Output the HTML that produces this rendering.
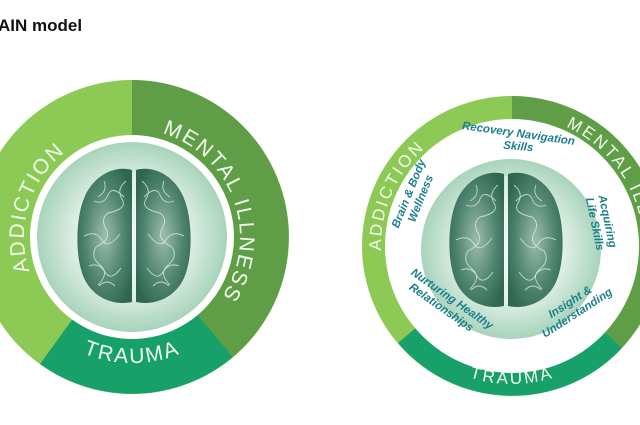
<!DOCTYPE html>
<html><head><meta charset="utf-8"><style>
html,body{margin:0;padding:0;background:#fff;}
body{width:640px;height:425px;overflow:hidden;}
svg{display:block}
</style></head><body>
<svg width="640" height="425" viewBox="0 0 640 425" xmlns="http://www.w3.org/2000/svg">
<defs>
<radialGradient id="disc" cx="50%" cy="50%" r="50%">
<stop offset="0" stop-color="#ffffff"/><stop offset="0.55" stop-color="#e4f2ea"/><stop offset="1" stop-color="#a8d3bb"/>
</radialGradient>
<radialGradient id="brainG" cx="50%" cy="50%" r="60%">
<stop offset="0" stop-color="#9cbcae"/><stop offset="0.6" stop-color="#4f8570"/><stop offset="1" stop-color="#2f6652"/>
</radialGradient>
<g id="brain">
<path d="M-2,-66 C-20,-71 -40,-60 -49,-40 C-59,-18 -59,22 -50,42 C-41,62 -20,70 -2,66 Z" fill="url(#brainG)"/>
<path d="M2,-66 C20,-71 40,-60 49,-40 C59,-18 59,22 50,42 C41,62 20,70 2,66 Z" fill="url(#brainG)"/>
<g fill="none" stroke="#dfeee6" stroke-width="0.9" opacity="0.8">
<path d="M-8,-55 q-10,8 -4,18 t-14,14 q-8,6 -2,16 t-10,18 q-6,10 4,18 t-2,20"/>
<path d="M-40,-35 q10,4 14,-6 t16,2 M-50,0 q12,-6 18,4 t18,-6 M-45,30 q10,-4 16,6 t16,-4 M-30,-55 q4,10 -6,16 M-35,50 q8,-8 16,0"/>
<path d="M8,-55 q10,8 4,18 t14,14 q8,6 2,16 t10,18 q6,10 -4,18 t2,20"/>
<path d="M40,-35 q-10,4 -14,-6 t-16,2 M50,0 q-12,-6 -18,4 t-18,-6 M45,30 q-10,-4 -16,6 t-16,-4 M30,-55 q-4,10 6,16 M35,50 q-8,-8 -16,0"/>
</g>
<line x1="0" y1="-64" x2="0" y2="64" stroke="#e6f1ec" stroke-width="1.5"/>
</g>
<path id="lcw" d="M132,345 A108,108 0 1 1 132,129 A108,108 0 1 1 132,345"/>
<path id="lccw" d="M132,111 A126,126 0 1 0 132,363 A126,126 0 1 0 132,111"/>
<path id="rcw" d="M512,377 A131,131 0 1 1 512,115 A131,131 0 1 1 512,377"/>
<path id="rccw" d="M512,108 A138,138 0 1 0 512,384 A138,138 0 1 0 512,108"/>
</defs>

<text x="-2" y="31" font-family="Liberation Sans, sans-serif" font-weight="bold" font-size="17" fill="#111">AIN model</text>

<!-- LEFT -->
<circle cx="132" cy="237" r="157" fill="#8dc955"/>
<path d="M132,237 L132,80 A157,157 0 0 1 233,357 Z" fill="#5f9e47"/>
<path d="M132,237 L233,357 A157,157 0 0 1 40,364 Z" fill="#18a06b"/>
<circle cx="132" cy="237" r="102" fill="#fff"/>
<circle cx="132" cy="237" r="95" fill="url(#disc)"/>
<use href="#brain" x="134" y="236"/>
<g font-family="Liberation Sans, sans-serif" font-size="21" fill="#f2fbef" letter-spacing="2">
<text><textPath href="#lcw" startOffset="29.7%" text-anchor="middle">ADDICTION</textPath></text>
<text><textPath href="#lcw" startOffset="69.5%" text-anchor="middle">MENTAL ILLNESS</textPath></text>
<text><textPath href="#lccw" startOffset="50%" text-anchor="middle">TRAUMA</textPath></text>
</g>

<!-- RIGHT -->
<circle cx="512" cy="246" r="150" fill="#8dc955"/>
<path d="M512,246 L512,96 A150,150 0 0 1 622,348 Z" fill="#5f9e47"/>
<path d="M512,246 L622,348 A150,150 0 0 1 398,343 Z" fill="#18a06b"/>
<circle cx="512" cy="246" r="127" fill="#fff"/>
<circle cx="511" cy="249" r="90" fill="url(#disc)"/>
<use href="#brain" x="506" y="240"/>
<g font-family="Liberation Sans, sans-serif" font-size="17" fill="#f2fbef" letter-spacing="2.5">
<text><textPath href="#rcw" startOffset="31.5%" text-anchor="middle">ADDICTION</textPath></text>
<text><textPath href="#rcw" startOffset="67.5%" text-anchor="middle">MENTAL ILLNESS</textPath></text>
<text><textPath href="#rccw" startOffset="50%" text-anchor="middle">TRAUMA</textPath></text>
</g>
<g font-family="Liberation Sans, sans-serif" font-style="italic" font-weight="bold" font-size="11.5" fill="#1c7f8c" text-anchor="middle">
<text x="518" y="137" transform="rotate(8 518 137)">Recovery Navigation</text>
<text x="518" y="150" transform="rotate(5 518 150)">Skills</text>
<g transform="translate(412,195) rotate(-68)"><text x="0" y="0">Brain &amp; Body</text><text x="0" y="13">Wellness</text></g>
<g transform="translate(604,222) rotate(78)"><text x="0" y="0">Acquiring</text><text x="0" y="13">Life Skills</text></g>
<g transform="translate(450,302) rotate(35)"><text x="0" y="0">Nurturing Healthy</text><text x="-4" y="13">Relationships</text></g>
<g transform="translate(572,305) rotate(-33)"><text x="0" y="0">Insight &amp;</text><text x="0" y="13">Understanding</text></g>
</g>
</svg>
</body></html>
